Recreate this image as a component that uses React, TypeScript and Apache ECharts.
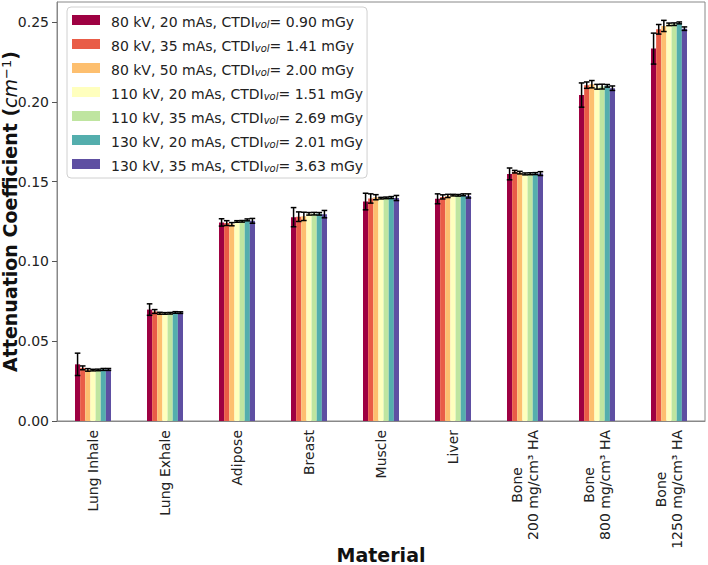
import React, { useEffect, useRef } from 'react';
import * as echarts from 'echarts';

const categories = [
  'Lung Inhale',
  'Lung Exhale',
  'Adipose',
  'Breast',
  'Muscle',
  'Liver',
  'Bone\n200 mg/cm³ HA',
  'Bone\n800 mg/cm³ HA',
  'Bone\n1250 mg/cm³ HA',
];

const kv = ['80', '80', '80', '110', '110', '130', '130'];
const mas = ['20', '35', '50', '20', '35', '20', '35'];
const ctdi = ['0.90', '1.41', '2.00', '1.51', '2.69', '2.01', '3.63'];

const colors = ['#9e0142', '#e95c47', '#fdbf6f', '#ffffbe', '#bfe5a0', '#54aead', '#5e4fa2'];

// mean attenuation per protocol, one value per material
const means = [
  [0.0355, 0.0698, 0.1244, 0.1277, 0.1375, 0.1392, 0.1548, 0.2042, 0.2333],
  [0.0333, 0.0686, 0.124, 0.128, 0.1394, 0.1404, 0.1562, 0.2104, 0.2454],
  [0.032, 0.0675, 0.1233, 0.1282, 0.1402, 0.141, 0.1556, 0.211, 0.2475],
  [0.0319, 0.0674, 0.125, 0.1298, 0.1396, 0.1415, 0.1548, 0.2094, 0.2485],
  [0.032, 0.0675, 0.1251, 0.1299, 0.1398, 0.1414, 0.1549, 0.2095, 0.2486],
  [0.0323, 0.068, 0.126, 0.1298, 0.14, 0.1417, 0.155, 0.21, 0.2494],
  [0.0323, 0.0679, 0.1254, 0.1296, 0.1397, 0.141, 0.155, 0.2085, 0.2458],
];

// standard deviations
const errors = [
  [0.007, 0.0036, 0.0023, 0.006, 0.0052, 0.0031, 0.0037, 0.0076, 0.0097],
  [0.0012, 0.0012, 0.0015, 0.003, 0.0029, 0.0013, 0.0008, 0.002, 0.003],
  [0.0008, 0.0006, 0.001, 0.0026, 0.0016, 0.001, 0.0008, 0.0023, 0.0035],
  [0.0005, 0.0005, 0.0005, 0.0008, 0.0005, 0.0005, 0.0006, 0.0015, 0.0008],
  [0.0005, 0.0005, 0.0005, 0.0008, 0.0005, 0.0005, 0.0006, 0.0015, 0.0008],
  [0.0006, 0.0005, 0.0006, 0.0008, 0.0006, 0.0006, 0.0006, 0.0008, 0.0006],
  [0.0006, 0.0005, 0.0015, 0.0023, 0.0016, 0.0013, 0.0012, 0.0014, 0.0011],
];

const yTicks = [0, 0.05, 0.1, 0.15, 0.2, 0.25];

const FONT = 'DejaVu Sans';

const seriesNames = kv.map((k, i) => `${k} kV, ${mas[i]} mAs, CTDI_vol= ${ctdi[i]} mGy`);

const App: React.FC = () => {
  const chartRef = useRef<HTMLDivElement>(null);

  useEffect(() => {
    document.body.style.margin = '0';
    if (!chartRef.current) return;
    const chart = echarts.init(chartRef.current, undefined, { renderer: 'svg' });

    const nSeries = means.length;
    const errData: number[][] = [];
    means.forEach((row, k) => {
      row.forEach((v, ci) => errData.push([ci, v, errors[k][ci], k]));
    });

    const option = {
      animation: false,
      textStyle: { fontFamily: FONT },
      grid: {
        left: 57,
        right: 3,
        top: 2,
        bottom: 144,
        outerBoundsMode: 'none',
        containLabel: false,
        show: true,
        borderColor: '#888',
        borderWidth: 1,
      },
      legend: {
        orient: 'vertical',
        left: 67,
        top: 7,
        padding: [8, 4, 5, 5],
        itemGap: 10,
        itemWidth: 28,
        itemHeight: 10,
        icon: 'rect',
        backgroundColor: 'rgba(255,255,255,0.8)',
        borderColor: '#d0d0d0',
        borderWidth: 1,
        borderRadius: 4,
        data: seriesNames,
        formatter: (name: string) => {
          const [pre, post] = name.split('CTDI_vol');
          return `{n|${pre}CTDI}{sub|vol}{n|${post}}`;
        },
        textStyle: {
          padding: [0, 0, 0, 6],
          rich: {
            n: { fontFamily: FONT, fontSize: 14, color: '#222', lineHeight: 18, verticalAlign: 'bottom' },
            sub: {
              fontFamily: FONT,
              fontSize: 10,
              fontStyle: 'italic',
              color: '#222',
              lineHeight: 10,
              verticalAlign: 'bottom',
            },
          },
        },
      },
      xAxis: {
        type: 'category',
        data: categories,
        name: 'Material',
        nameLocation: 'middle',
        nameGap: 124,
        nameMoveOverlap: false,
        nameTextStyle: { fontFamily: FONT, fontSize: 19, fontWeight: 'bold', color: '#111' },
        axisLine: { lineStyle: { color: '#888' } },
        axisTick: { alignWithLabel: true, length: 5, lineStyle: { color: '#555' } },
        axisLabel: {
          rotate: 90,
          margin: 9,
          interval: 0,
          color: '#222',
          fontFamily: FONT,
          fontSize: 14,
          lineHeight: 16,
          formatter: (v: string) =>
            v.includes('\n')
              ? v
                  .split('\n')
                  .map((s) => `{c|${s}}`)
                  .join('\n')
              : v,
          rich: {
            c: { align: 'center', fontFamily: FONT, fontSize: 14, lineHeight: 16, color: '#222' },
          },
        },
      },
      yAxis: {
        type: 'value',
        min: 0,
        max: 0.2625,
        interval: 0.05,
        name: '{b|Attenuation Coefficient (}{i|cm}{sup|−1}{b|)}',
        nameLocation: 'middle',
        nameGap: 33,
        nameMoveOverlap: false,
        nameTextStyle: {
          rich: {
            b: { fontFamily: FONT, fontSize: 19, fontWeight: 'bold', color: '#111', lineHeight: 24, verticalAlign: 'top' },
            i: { fontFamily: FONT, fontSize: 19, fontStyle: 'italic', color: '#111', lineHeight: 24, verticalAlign: 'top' },
            sup: { fontFamily: FONT, fontSize: 13, color: '#111', lineHeight: 14, verticalAlign: 'top' },
          },
        },
        splitLine: { show: false },
        axisLine: { show: true, lineStyle: { color: '#888' } },
        axisTick: { show: true, length: 5, lineStyle: { color: '#555' } },
        axisLabel: {
          margin: 8,
          color: '#222',
          fontFamily: FONT,
          fontSize: 14,
          showMaxLabel: false,
          formatter: (v: number) => (yTicks.some((t) => Math.abs(t - v) < 1e-9) ? v.toFixed(2) : ''),
        },
      },
      series: [
        ...means.map((row, k) => ({
          name: seriesNames[k],
          type: 'bar',
          data: row,
          barGap: '0%',
          barCategoryGap: '50%',
          itemStyle: { color: colors[k] },
        })),
        {
          name: 'error',
          type: 'custom',
          z: 5,
          data: errData,
          encode: { x: 0, y: 1 },
          renderItem: (params: any, api: any) => {
            const ci = api.value(0);
            const v = api.value(1);
            const e = api.value(2);
            const k = api.value(3);
            const center = api.coord([ci, v]);
            const band = api.size([1, 0])[0];
            const bw = band / (2 * nSeries);
            const x = center[0] + (k - (nSeries - 1) / 2) * bw;
            const top = api.coord([ci, v + e])[1];
            const bot = api.coord([ci, v - e])[1];
            const cap = 2.8;
            const style = { stroke: '#000', lineWidth: 1.5 };
            return {
              type: 'group',
              children: [
                { type: 'line', shape: { x1: x, y1: top, x2: x, y2: bot }, style },
                { type: 'line', shape: { x1: x - cap, y1: top, x2: x + cap, y2: top }, style },
                { type: 'line', shape: { x1: x - cap, y1: bot, x2: x + cap, y2: bot }, style },
              ],
            };
          },
        },
      ],
    };

    chart.setOption(option as any);

    return () => {
      chart.dispose();
    };
  }, []);

  return <div ref={chartRef} style={{ width: '708px', height: '565px' }} />;
};

export default App;
